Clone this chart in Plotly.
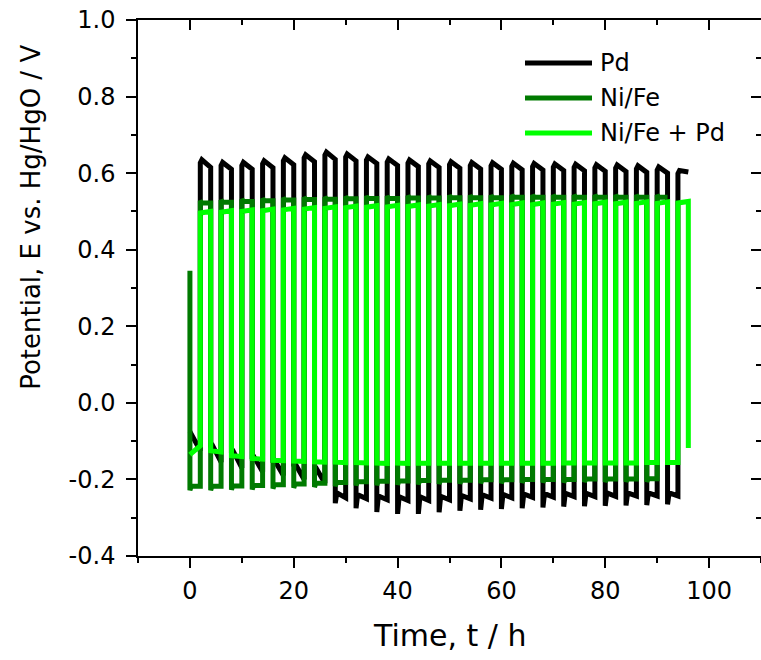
import plotly.graph_objects as go

# Galvanostatic cycling: each 4 h cycle = 2 h low-potential step + 2 h high-potential step
cycle_t = [0, 4, 8, 12, 16, 20, 24, 28, 32, 36, 40, 44,
           48, 52, 56, 60, 64, 68, 72, 76, 80, 84, 88, 92]

# Pd electrode (V vs. Hg/HgO)
pd_low_min = [-0.075, -0.110, -0.125, -0.140, -0.150, -0.160, -0.170, -0.262,
              -0.275, -0.285, -0.290, -0.290, -0.286, -0.282, -0.279, -0.277,
              -0.275, -0.273, -0.271, -0.270, -0.269, -0.268, -0.267, -0.265]
pd_low_start = [-0.075, -0.110, -0.125, -0.140, -0.150, -0.160, -0.170, -0.235,
                -0.240, -0.243, -0.245, -0.245, -0.244, -0.242, -0.240, -0.239,
                -0.238, -0.237, -0.236, -0.236, -0.235, -0.235, -0.235, -0.235]
pd_low_end = [-0.125, -0.155, -0.170, -0.180, -0.190, -0.200, -0.210, -0.248,
              -0.250, -0.253, -0.255, -0.255, -0.253, -0.251, -0.249, -0.248,
              -0.247, -0.246, -0.245, -0.245, -0.244, -0.243, -0.243, -0.243]
pd_high_peak = [0.635, 0.628, 0.628, 0.632, 0.640, 0.648, 0.655, 0.650,
                0.642, 0.637, 0.634, 0.632, 0.630, 0.628, 0.627, 0.626,
                0.625, 0.624, 0.623, 0.622, 0.621, 0.619, 0.616, 0.607]
pd_high_end = [0.615, 0.610, 0.610, 0.614, 0.622, 0.630, 0.636, 0.632,
               0.625, 0.620, 0.617, 0.615, 0.613, 0.611, 0.610, 0.609,
               0.608, 0.607, 0.606, 0.605, 0.604, 0.602, 0.600, 0.603]

# Ni/Fe electrode (23 cycles, starts from open-circuit value)
nf_start = 0.345
nf_low_min = [-0.228, -0.228, -0.227, -0.226, -0.224, -0.222, -0.220, -0.218,
              -0.216, -0.215, -0.214, -0.213, -0.212, -0.211, -0.210, -0.210,
              -0.209, -0.208, -0.208, -0.207, -0.207, -0.206, -0.206]
nf_low = [-0.218, -0.218, -0.217, -0.216, -0.214, -0.212, -0.210, -0.208,
          -0.206, -0.205, -0.204, -0.203, -0.202, -0.202, -0.201, -0.201,
          -0.200, -0.200, -0.200, -0.199, -0.199, -0.199, -0.198]
nf_high = [0.522, 0.524, 0.526, 0.528, 0.530, 0.531, 0.532, 0.533,
           0.534, 0.534, 0.535, 0.535, 0.536, 0.536, 0.536, 0.537,
           0.537, 0.537, 0.537, 0.537, 0.537, 0.537, 0.537]

# Ni/Fe + Pd electrode
nfp_low_start = [-0.135, -0.125, -0.138, -0.145, -0.150, -0.152, -0.154, -0.155,
                 -0.156, -0.157, -0.157, -0.158, -0.158, -0.158, -0.158, -0.158,
                 -0.158, -0.158, -0.157, -0.157, -0.157, -0.157, -0.156, -0.156]
nfp_low_end = [-0.112, -0.128, -0.140, -0.147, -0.151, -0.153, -0.155, -0.156,
               -0.157, -0.158, -0.158, -0.158, -0.158, -0.158, -0.158, -0.158,
               -0.158, -0.158, -0.157, -0.157, -0.157, -0.157, -0.156, -0.156]
nfp_high = [0.500, 0.502, 0.504, 0.506, 0.508, 0.510, 0.512, 0.514,
            0.515, 0.516, 0.517, 0.518, 0.519, 0.520, 0.521, 0.522,
            0.522, 0.523, 0.523, 0.524, 0.524, 0.525, 0.525, 0.526]
nfp_end = -0.118

series_names = ["Pd", "Ni/Fe", "Ni/Fe + Pd"]
series_colors = ["#000000", "#007A00", "#00FF00"]

x_ticks = [0, 20, 40, 60, 80, 100]
x_minor = [-10, 10, 30, 50, 70, 90, 110]
y_ticks = [-0.4, -0.2, 0.0, 0.2, 0.4, 0.6, 0.8, 1.0]
y_ticktext = ["-0.4", "-0.2", "0.0", "0.2", "0.4", "0.6", "0.8", "1.0"]
y_minor = [-0.3, -0.1, 0.1, 0.3, 0.5, 0.7, 0.9]


def pd_curve():
    t, e = [], []
    for k, t0 in enumerate(cycle_t):
        if k == 0:
            t += [t0]
            e += [pd_low_start[k]]
        else:
            t += [t0, t0 + 0.3]
            e += [pd_low_min[k], pd_low_start[k]]
        t += [t0 + 2, t0 + 2, t0 + 2.3, t0 + 4]
        e += [pd_low_end[k], pd_high_peak[k] - 0.008, pd_high_peak[k], pd_high_end[k]]
    return t, e


def nf_curve():
    t, e = [cycle_t[0]], [nf_start]
    for k in range(len(nf_high)):
        t0 = cycle_t[k]
        t += [t0, t0 + 0.25, t0 + 2, t0 + 2, t0 + 2.3, t0 + 4]
        e += [nf_low_min[k], nf_low[k], nf_low[k], nf_high[k] + 0.006,
              nf_high[k], nf_high[k]]
    return t, e


def nfp_curve():
    t, e = [], []
    for k, t0 in enumerate(cycle_t):
        if k == 0:
            t += [t0, t0 + 1.0, t0 + 2]
            e += [nfp_low_start[k], nfp_low_start[k] + 0.012, nfp_low_end[k]]
        else:
            t += [t0, t0 + 2]
            e += [nfp_low_start[k], nfp_low_end[k]]
        t += [t0 + 2, t0 + 4]
        e += [nfp_high[k] - 0.004, nfp_high[k]]
    t += [cycle_t[-1] + 4]
    e += [nfp_end]
    return t, e


fig = go.Figure()
for name, color, (tt, ee) in zip(series_names, series_colors,
                                  [pd_curve(), nf_curve(), nfp_curve()]):
    fig.add_trace(go.Scatter(x=tt, y=ee, mode="lines", name=name,
                             line=dict(color=color, width=5),
                             showlegend=False))

# empty trace that keeps the mirrored top/right axes drawn
fig.add_trace(go.Scatter(x=[None], y=[None], xaxis="x2", yaxis="y2",
                         mode="lines", showlegend=False, hoverinfo="skip"))

# plot-area geometry in pixels
W, H = 761, 660
L, R, T, B = 138, 761, 20, 556.5


def fx(px):
    return (px - L) / (R - L)


def fy(py):
    return (B - py) / (B - T)


FONT = "DejaVu Sans"
axis_common = dict(showline=True, linecolor="black", linewidth=1.5,
                   showgrid=False, zeroline=False, tickcolor="black",
                   tickwidth=1.5)


def minor_ticks(vals, direction):
    return dict(tickmode="array", tickvals=vals, ticks=direction, ticklen=5,
                tickcolor="black", tickwidth=1.5)


fig.update_layout(
    width=W, height=H,
    margin=dict(l=L, r=W - R, t=T, b=H - B),
    paper_bgcolor="white", plot_bgcolor="white",
    font=dict(family=FONT, color="black"),
    xaxis=dict(range=[-10, 110], tickmode="array", tickvals=x_ticks,
               ticks="outside", ticklen=10, ticklabelstandoff=2,
               minor=minor_ticks(x_minor, "outside"),
               tickfont=dict(size=24, family=FONT), **axis_common),
    yaxis=dict(range=[-0.4, 1.0], tickmode="array", tickvals=y_ticks,
               ticktext=y_ticktext, ticks="outside", ticklen=10,
               ticklabelstandoff=6,
               minor=minor_ticks(y_minor, "outside"),
               tickfont=dict(size=24, family=FONT), **axis_common),
    xaxis2=dict(overlaying="x", side="top", range=[-10, 110],
                tickmode="array", tickvals=x_ticks,
                ticks="inside", ticklen=10, showticklabels=False,
                minor=minor_ticks(x_minor, "inside"), **axis_common),
    yaxis2=dict(overlaying="y", side="right", range=[-0.4, 1.0],
                tickmode="array", tickvals=y_ticks,
                ticks="inside", ticklen=10, showticklabels=False,
                minor=minor_ticks(y_minor, "inside"), **axis_common),
)

# Axis titles
fig.add_annotation(text="Time, t / h", xref="paper", yref="paper",
                   x=fx(449.5), y=fy(636), xanchor="center", yanchor="middle",
                   showarrow=False, font=dict(size=30, family=FONT))
fig.add_annotation(text="Potential, E vs. Hg/HgO / V", xref="paper", yref="paper",
                   x=fx(31), y=fy(218), xanchor="center", yanchor="middle",
                   textangle=-90, showarrow=False, font=dict(size=26, family=FONT))

# Legend: line samples and labels
legend_y = [63, 98, 133]
for name, color, ly in zip(series_names, series_colors, legend_y):
    fig.add_shape(type="line", xref="paper", yref="paper",
                  x0=fx(525), x1=fx(592), y0=fy(ly), y1=fy(ly),
                  line=dict(color=color, width=5))
    fig.add_annotation(text=name, xref="paper", yref="paper",
                       x=fx(598), y=fy(ly), xanchor="left", yanchor="middle",
                       showarrow=False, font=dict(size=24, family=FONT))

fig.write_html("out.html")
